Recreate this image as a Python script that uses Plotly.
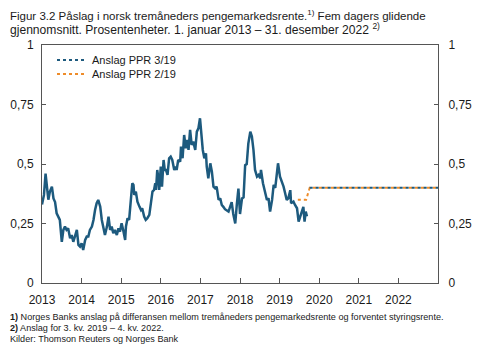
import plotly.graph_objects as go

# Actual spread, 5-day moving average (decimal years, percentage points)
t_actual = [2013.00, 2013.05, 2013.09, 2013.13, 2013.16, 2013.20, 2013.25, 2013.29, 2013.33, 2013.37,
            2013.41, 2013.45, 2013.50, 2013.54, 2013.58, 2013.62, 2013.66, 2013.71, 2013.75, 2013.79,
            2013.83, 2013.88, 2013.92, 2013.96, 2014.00, 2014.04, 2014.09, 2014.13, 2014.17, 2014.21,
            2014.26, 2014.30, 2014.34, 2014.38, 2014.42, 2014.47, 2014.51, 2014.55, 2014.59, 2014.64,
            2014.68, 2014.72, 2014.76, 2014.80, 2014.84, 2014.89, 2014.93, 2014.97, 2015.01, 2015.05,
            2015.10, 2015.12, 2015.16, 2015.20, 2015.24, 2015.28, 2015.31, 2015.33, 2015.37, 2015.41,
            2015.46, 2015.50, 2015.53, 2015.58, 2015.62, 2015.66, 2015.71, 2015.75, 2015.79, 2015.83,
            2015.86, 2015.88, 2015.91, 2015.94, 2015.96, 2016.00, 2016.03, 2016.07, 2016.10, 2016.13,
            2016.17, 2016.21, 2016.25, 2016.29, 2016.34, 2016.38, 2016.40, 2016.44, 2016.49, 2016.51,
            2016.55, 2016.59, 2016.63, 2016.67, 2016.70, 2016.74, 2016.78, 2016.82, 2016.87, 2016.91,
            2016.95, 2016.99, 2017.02, 2017.06, 2017.10, 2017.14, 2017.16, 2017.20, 2017.25, 2017.29,
            2017.33, 2017.37, 2017.41, 2017.46, 2017.50, 2017.54, 2017.58, 2017.62, 2017.71, 2017.79,
            2017.83, 2017.88, 2017.92, 2017.96, 2018.00, 2018.05, 2018.09, 2018.13, 2018.17, 2018.21,
            2018.26, 2018.30, 2018.34, 2018.38, 2018.43, 2018.47, 2018.51, 2018.53, 2018.58, 2018.64,
            2018.68, 2018.72, 2018.76, 2018.81, 2018.85, 2018.89, 2018.93, 2018.96, 2019.01, 2019.06,
            2019.10, 2019.14, 2019.18, 2019.22, 2019.27, 2019.29, 2019.35, 2019.39, 2019.44, 2019.48,
            2019.52, 2019.56, 2019.60, 2019.63, 2019.66, 2019.69]
v_actual = [0.33, 0.37, 0.46, 0.405, 0.35, 0.384, 0.405, 0.355, 0.34, 0.293,
            0.28, 0.265, 0.173, 0.223, 0.237, 0.223, 0.23, 0.188, 0.202, 0.173,
            0.195, 0.223, 0.16, 0.153, 0.167, 0.139, 0.181, 0.195, 0.195, 0.223,
            0.237, 0.265, 0.307, 0.335, 0.349, 0.321, 0.265, 0.23, 0.202, 0.237,
            0.279, 0.223, 0.237, 0.209, 0.223, 0.202, 0.23, 0.216, 0.251, 0.223,
            0.181, 0.237, 0.272, 0.265, 0.349, 0.419, 0.412, 0.37, 0.384, 0.342,
            0.321, 0.307, 0.314, 0.279, 0.265, 0.272, 0.286, 0.342, 0.384, 0.391,
            0.419, 0.391, 0.475, 0.44, 0.391, 0.489, 0.405, 0.517, 0.475, 0.475,
            0.454, 0.524, 0.531, 0.517, 0.475, 0.489, 0.475, 0.517, 0.51, 0.573,
            0.524, 0.622, 0.566, 0.601, 0.559, 0.643, 0.58, 0.594, 0.559, 0.636,
            0.65, 0.692, 0.629, 0.559, 0.524, 0.545, 0.489, 0.44, 0.503, 0.468,
            0.405, 0.398, 0.405, 0.349, 0.356, 0.328, 0.32, 0.31, 0.30, 0.34,
            0.29, 0.25, 0.33, 0.397, 0.29, 0.355, 0.36, 0.495, 0.50, 0.586,
            0.636, 0.615, 0.559, 0.475, 0.447, 0.454, 0.44, 0.475, 0.419, 0.37,
            0.349, 0.356, 0.30, 0.349, 0.412, 0.40, 0.468, 0.503, 0.447, 0.426,
            0.405, 0.377, 0.349, 0.356, 0.39, 0.335, 0.342, 0.328, 0.314, 0.258,
            0.279, 0.30, 0.32, 0.258, 0.30, 0.28]

# Forecasts
t_ppr319 = [2019.76, 2023.00]
v_ppr319 = [0.40, 0.40]
t_ppr219 = [2019.46, 2019.67, 2019.76, 2023.00]
v_ppr219 = [0.35, 0.35, 0.40, 0.40]

year_ticks = [2013, 2014, 2015, 2016, 2017, 2018, 2019, 2020, 2021, 2022]
year_labels = [str(y) for y in year_ticks]
y_ticks = [0, 0.25, 0.5, 0.75, 1]
y_labels = ["0", "0,25", "0,5", "0,75", "1"]

BLUE = "#1d5a7e"
ORANGE = "#ee8c2a"
AX = "#555555"
TXT = "#1a1a1a"
FONT = "Liberation Sans, Arial, sans-serif"

# page body has an 8px default margin: figure is drawn offset by (8, 8)
OFF = 8
W, H = 500 - OFF, 364 - OFF
L, T = 42 - OFF, 45 - OFF
R = W - (437.7 - OFF)
B = H - (283 - OFF)
PW, PH = W - L - R, H - T - B

def px_x(px):  # screen pixel -> paper x
    return (px - OFF - L) / PW

def px_y(py):  # screen pixel -> paper y
    return (H - B - (py - OFF)) / PH

fig = go.Figure()
fig.add_trace(go.Scatter(x=t_actual, y=v_actual, mode="lines", showlegend=False,
                         line=dict(color=BLUE, width=2.5)))
fig.add_trace(go.Scatter(x=t_ppr219, y=v_ppr219, mode="lines", name="Anslag PPR 2/19",
                         legend="legend2",
                         line=dict(color=ORANGE, width=2, dash="3px,3px")))
fig.add_trace(go.Scatter(x=t_ppr319, y=v_ppr319, mode="lines", name="Anslag PPR 3/19",
                         legend="legend",
                         line=dict(color=BLUE, width=2, dash="3px,3px")))
# invisible trace on right axis
fig.add_trace(go.Scatter(x=[2013], y=[0], yaxis="y2", mode="markers", showlegend=False,
                         marker=dict(opacity=0), hoverinfo="skip"))

axis_common = dict(showline=True, linecolor=AX, linewidth=1, tickcolor=AX,
                   showgrid=False, zeroline=False, automargin=False,
                   tickfont=dict(family=FONT, size=12, color=TXT))

fig.update_layout(
    width=W, height=H,
    margin=dict(l=L, r=R, t=T, b=B, autoexpand=False),
    paper_bgcolor="white", plot_bgcolor="white",
    font=dict(family=FONT, size=12, color=TXT),
    xaxis=dict(range=[2013, 2023], tickvals=year_ticks, ticktext=year_labels,
               mirror=True, ticks="inside", ticklen=5, ticklabelstandoff=6, **axis_common),
    yaxis=dict(range=[0, 1], tickvals=y_ticks, ticktext=y_labels,
               ticks="inside", ticklen=4, ticklabelstandoff=5, **axis_common),
    yaxis2=dict(range=[0, 1], tickvals=y_ticks, ticktext=y_labels, overlaying="y", side="right",
                ticks="inside", ticklen=4, ticklabelstandoff=7, **axis_common),
    legend=dict(x=px_x(52), y=px_y(60), xanchor="left", yanchor="middle",
                bgcolor="rgba(0,0,0,0)", font=dict(size=11, color=TXT), itemwidth=30),
    legend2=dict(x=px_x(52), y=px_y(74), xanchor="left", yanchor="middle",
                 bgcolor="rgba(0,0,0,0)", font=dict(size=11, color=TXT), itemwidth=30),
    showlegend=True,
)

title_lines = [
    ("Figur 3.2 Påslag i norsk tremåneders pengemarkedsrente.<sup>1)</sup> Fem dagers glidende", 14.5, 11.5),
    ("gjennomsnitt. Prosentenheter. 1. januar 2013 – 31. desember 2022 <sup>2)</sup>", 29, 12.1),
]
for txt, ypx, fs in title_lines:
    fig.add_annotation(text=txt, xref="paper", yref="paper", x=px_x(8.5), y=px_y(ypx),
                       xanchor="left", yanchor="middle", showarrow=False,
                       font=dict(family=FONT, size=fs, color=TXT))

notes = [
    ("<b>1)</b> Norges Banks anslag på differansen mellom tremåneders pengemarkedsrente og forventet styringsrente.", 317),
    ("<b>2)</b> Anslag for 3. kv. 2019 – 4. kv. 2022.", 328),
    ("Kilder: Thomson Reuters og Norges Bank", 338.5),
]
for txt, ypx in notes:
    fig.add_annotation(text=txt, xref="paper", yref="paper", x=px_x(8.5), y=px_y(ypx),
                       xanchor="left", yanchor="middle", showarrow=False,
                       font=dict(family=FONT, size=9.1, color=TXT))

fig.write_html("out.html")
